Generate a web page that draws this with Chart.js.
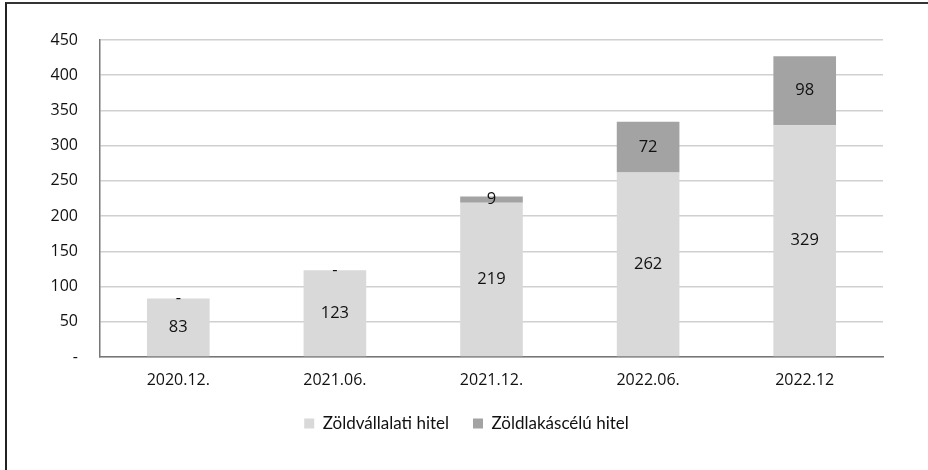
<!DOCTYPE html>
<html>
<head>
<meta charset="utf-8">
<script src="https://cdn.jsdelivr.net/npm/chart.js@4/dist/chart.umd.min.js"></script>
<style>
  body { margin: 0; background: #fff; }
  #wrap { position: relative; width: 928px; height: 470px; overflow: hidden; }
  #frame {
    position: absolute; left: 5px; top: 2px; right: -10px; bottom: -10px;
    border-left: 2px solid #222; border-top: 2px solid #333;
    pointer-events: none;
  }
  canvas { position: absolute; left: 0; top: 0; }
</style>
</head>
<body>
<div id="wrap">
  <canvas id="chart" width="928" height="470"></canvas>
  <div id="frame"></div>
</div>
<script>
// Données
const categories = ["2020.12.", "2021.06.", "2021.12.", "2022.06.", "2022.12"];
const zoldvallalati = [83, 123, 219, 262, 329];
const zoldlakascelu = [0, 0, 9, 72, 98];
const yTicks = [0, 50, 100, 150, 200, 250, 300, 350, 400, 450];

const FONT = "'Open Sans', sans-serif";

// Étiquettes de valeurs au centre des segments
const valueLabels = {
  id: "valueLabels",
  afterDatasetsDraw(chart) {
    const ctx = chart.ctx;
    ctx.save();
    ctx.font = "16.5px " + FONT;
    ctx.fillStyle = "#111";
    ctx.textAlign = "center";
    ctx.textBaseline = "middle";
    chart.data.datasets.forEach((ds, i) => {
      chart.getDatasetMeta(i).data.forEach((bar, j) => {
        const v = ds.data[j];
        const yc = (bar.y + bar.base) / 2;
        ctx.fillText(v === 0 ? "-" : String(v), bar.x, yc);
      });
    });
    ctx.restore();
  },
};

new Chart(document.getElementById("chart"), {
  type: "bar",
  data: {
    labels: categories,
    datasets: [
      {
        label: "Zöldvállalati hitel",
        data: zoldvallalati,
        backgroundColor: "#d9d9d9",
        borderWidth: 0,
        categoryPercentage: 1,
        barPercentage: 0.4,
      },
      {
        label: "Zöldlakáscélú hitel",
        data: zoldlakascelu,
        backgroundColor: "#a3a3a3",
        borderWidth: 0,
        categoryPercentage: 1,
        barPercentage: 0.4,
      },
    ],
  },
  options: {
    responsive: false,
    animation: false,
    layout: { padding: { left: 50, right: 45, top: 40, bottom: 28 } },
    plugins: {
      legend: {
        position: "bottom",
        labels: {
          boxWidth: 10,
          boxHeight: 10,
          padding: 24,
          color: "#111",
          font: { family: "Lato, sans-serif", size: 17 },
        },
      },
      tooltip: { enabled: false },
    },
    scales: {
      x: {
        stacked: true,
        grid: { display: false, drawTicks: false },
        border: { color: "#777", width: 1.5 },
        ticks: { padding: 14, color: "#111", font: { family: FONT, size: 16 } },
        afterFit(scale) { scale.height = 34; },
      },
      y: {
        stacked: true,
        min: 0,
        max: 450,
        afterBuildTicks(scale) { scale.ticks = yTicks.map((v) => ({ value: v })); },
        grid: { color: "#d0d0d0", lineWidth: 1.5, drawTicks: false },
        border: { color: "#777", width: 1.5 },
        ticks: {
          padding: 22,
          color: "#111",
          font: { family: FONT, size: 16 },
          callback: (v) => (v === 0 ? "-" : v),
        },
        afterFit(scale) { scale.width = 50; },
      },
    },
  },
  plugins: [valueLabels],
});
</script>
</body>
</html>
